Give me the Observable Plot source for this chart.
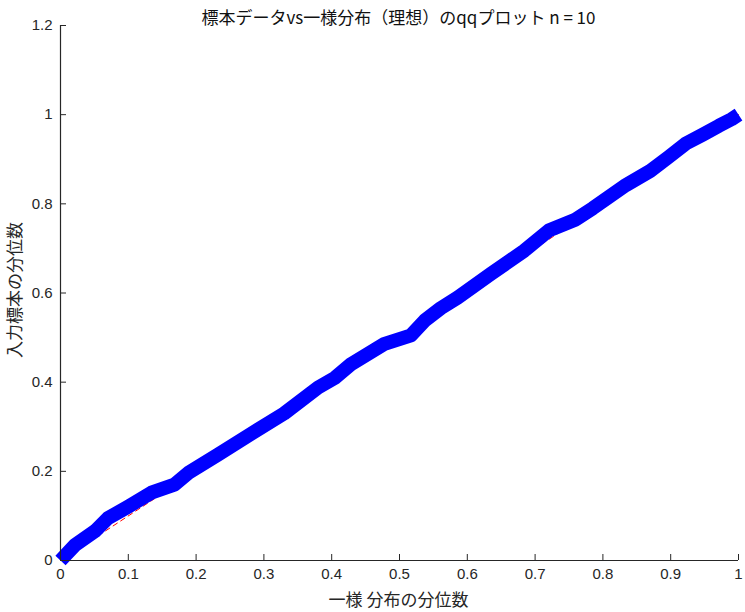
<!DOCTYPE html>
<html>
<head>
<meta charset="utf-8">
<script src="https://cdn.jsdelivr.net/npm/d3@7"></script>
<script src="https://cdn.jsdelivr.net/npm/@observablehq/plot@0.6"></script>
<style>
  html, body { margin: 0; padding: 0; background: #fff; }
  #wrap { position: relative; width: 745px; height: 612px; font-family: "Noto Sans CJK JP", "Liberation Sans", sans-serif; }
  #title { position: absolute; left: 0; top: 6px; width: 797px; text-align: center; font-size: 17px; color: #111; font-family: "Noto Sans CJK JP", sans-serif; line-height: 22px; }
  #xlabel { position: absolute; left: 0; top: 588px; width: 797px; text-align: center; font-size: 17px; color: #262626; font-family: "Noto Sans CJK JP", sans-serif; line-height: 22px; }
  #ylabel { position: absolute; left: 14px; top: 290px; transform: translate(-50%, -50%) rotate(-90deg); white-space: nowrap; font-size: 17px; color: #262626; font-family: "Noto Sans CJK JP", sans-serif; line-height: 22px; }
  #chart { position: absolute; left: 0; top: 0; }
</style>
</head>
<body>
<div id="wrap">
  <div id="chart"></div>
  <div id="title">標本データvs一様分布（理想）のqqプロット n = 10</div>
  <div id="xlabel">一様 分布の分位数</div>
  <div id="ylabel">入力標本の分位数</div>
</div>
<script>
const sampleX = [0, 0.021, 0.051, 0.07, 0.10, 0.134, 0.168, 0.19, 0.232, 0.281, 0.330, 0.380, 0.405, 0.429, 0.478, 0.517, 0.537, 0.561, 0.586, 0.635, 0.684, 0.72, 0.76, 0.785, 0.834, 0.870, 0.897, 0.922, 0.947, 0.971, 0.99, 1];
const sampleY = [0, 0.034, 0.066, 0.095, 0.121, 0.152, 0.170, 0.198, 0.237, 0.284, 0.330, 0.388, 0.41, 0.441, 0.486, 0.505, 0.538, 0.566, 0.59, 0.643, 0.695, 0.74, 0.765, 0.79, 0.842, 0.874, 0.905, 0.935, 0.955, 0.975, 0.99, 1];
const refX = [0, 1];
const refY = [0, 1];
const xTicks = [0, 0.1, 0.2, 0.3, 0.4, 0.5, 0.6, 0.7, 0.8, 0.9, 1];
const yTicks = [0, 0.2, 0.4, 0.6, 0.8, 1, 1.2];

const sample = sampleX.map((x, i) => ({x, y: sampleY[i]}));
const ref = refX.map((x, i) => ({x, y: refY[i]}));
const fmt = d => String(+d.toFixed(1));

const chart = Plot.plot({
  width: 745,
  height: 612,
  marginTop: 25,
  marginLeft: 60,
  marginRight: 7,
  marginBottom: 52,
  style: { fontFamily: "Liberation Sans, sans-serif", fontSize: "15px", color: "#262626", background: "white" },
  x: { domain: [0, 1], ticks: xTicks, tickFormat: fmt },
  y: { domain: [0, 1.2], ticks: yTicks, tickFormat: fmt },
  marks: [
    Plot.line(ref, { x: "x", y: "y", stroke: "red", strokeWidth: 1, strokeDasharray: "5,4" }),
    Plot.line(sample, { x: "x", y: "y", stroke: "#0000ff", strokeWidth: 14, strokeLinejoin: "round", strokeLinecap: "butt" }),
    Plot.ruleX([0], { stroke: "#262626", strokeWidth: 1.2 }),
    Plot.ruleY([0], { stroke: "#262626", strokeWidth: 1.2 }),
    Plot.axisX({ ticks: xTicks, tickFormat: fmt, tickSize: -6, tickPadding: 14, label: null, stroke: "#262626", fontSize: 15 }),
    Plot.axisY({ ticks: yTicks, tickFormat: fmt, tickSize: -6, tickPadding: 14, label: null, stroke: "#262626", fontSize: 15 })
  ]
});
document.getElementById("chart").appendChild(chart);
</script>
</body>
</html>
